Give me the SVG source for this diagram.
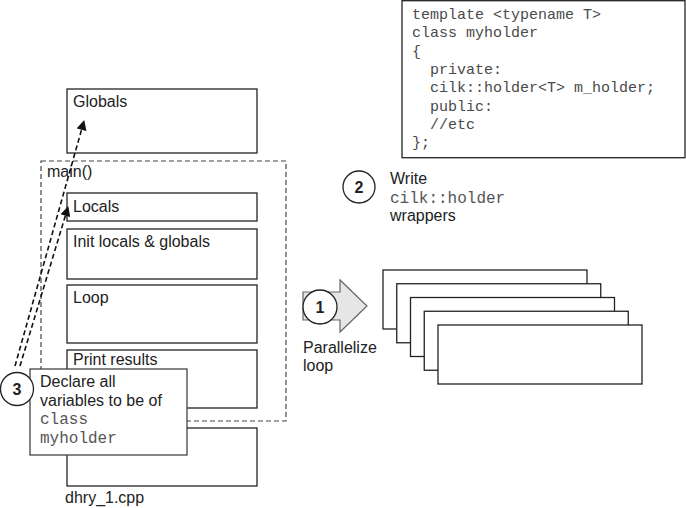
<svg xmlns="http://www.w3.org/2000/svg" width="686" height="508" viewBox="0 0 686 508">
<defs>
<style>
.box{fill:#fff;stroke:#222;stroke-width:1.3}
.sans{font-family:"Liberation Sans",Arial,sans-serif;font-size:16px;fill:#222}
.mono{font-family:"Liberation Mono","Courier New",monospace;font-size:16px;fill:#555}
.code{font-family:"Liberation Mono","Courier New",monospace;font-size:15px;fill:#4a4a4a}
.num{font-family:"Liberation Sans",Arial,sans-serif;font-size:16px;font-weight:bold;fill:#222;text-anchor:middle}
.circ{fill:#fff;stroke:#222;stroke-width:1.3}
.dash{fill:none;stroke:#444;stroke-width:1.2;stroke-dasharray:5 3}
.conn{fill:none;stroke:#111;stroke-width:1.6;stroke-dasharray:5 3}
</style>
<marker id="ah" viewBox="0 0 10 10" refX="9" refY="5" markerWidth="11" markerHeight="10" markerUnits="userSpaceOnUse" orient="auto">
<path d="M0,0 L10,5 L0,10 z" fill="#111"/>
</marker>
</defs>

<g id="code-box">
<rect x="402" y="0.7" width="283" height="157" class="box"/>
<text class="code" xml:space="preserve"><tspan x="412" y="19">template &lt;typename T&gt;</tspan><tspan x="412" y="37.3">class myholder</tspan><tspan x="412" y="55.6">{</tspan><tspan x="412" y="73.9">  private:</tspan><tspan x="412" y="92.2">  cilk::holder&lt;T&gt; m_holder;</tspan><tspan x="412" y="110.5">  public:</tspan><tspan x="412" y="128.8">  //etc</tspan><tspan x="412" y="147.1">};</tspan></text>
</g>

<g id="globals">
<rect x="67" y="89" width="190" height="64" class="box"/>
<text class="sans" x="73" y="107">Globals</text>
</g>

<g id="main">
<rect x="41" y="161" width="245" height="260" class="dash"/>
<text class="sans" x="47" y="177">main()</text>
</g>

<g id="locals">
<rect x="67" y="193" width="190" height="28" class="box"/>
<text class="sans" x="73" y="212">Locals</text>
</g>

<g id="init">
<rect x="67" y="229" width="190" height="50" class="box"/>
<text class="sans" x="73" y="247">Init locals &amp; globals</text>
</g>

<g id="loop">
<rect x="67" y="285" width="190" height="58" class="box"/>
<text class="sans" x="73" y="303">Loop</text>
</g>

<g id="print">
<rect x="67" y="350" width="190" height="58" class="box"/>
<text class="sans" x="73" y="365">Print results</text>
</g>

<g id="bottom-block">
<rect x="67" y="428" width="190" height="58" class="box"/>
</g>

<g id="file-label">
<text class="sans" x="65" y="503">dhry_1.cpp</text>
</g>

<g id="connectors">
<line x1="15" y1="366" x2="84" y2="121" class="conn" marker-end="url(#ah)"/>
<line x1="20" y1="366" x2="68" y2="207" class="conn" marker-end="url(#ah)"/>
</g>

<g id="step3">
<rect x="30" y="369" width="157" height="86" fill="#fff" stroke="#444" stroke-width="1.3"/>
<circle cx="17" cy="389" r="16.5" class="circ"/>
<text class="num" x="17" y="395">3</text>
<text class="sans" x="40" y="387">Declare all</text>
<text class="sans" x="40" y="405.5">variables to be of</text>
<text class="mono" x="40" y="424">class</text>
<text class="mono" x="40" y="442.5">myholder</text>
</g>

<g id="step2">
<circle cx="359" cy="187" r="16" class="circ"/>
<text class="num" x="359" y="193">2</text>
<text class="sans" x="390" y="184">Write</text>
<text class="mono" x="390" y="203">cilk::holder</text>
<text class="sans" x="390" y="221">wrappers</text>
</g>

<g id="step1">
<path d="M303,292 L340,292 L340,280 L367,306 L340,332 L340,320 L303,320 Z" fill="#e6e6e6" stroke="#666" stroke-width="1.2"/>
<circle cx="320" cy="307" r="17" class="circ"/>
<text class="num" x="320" y="313">1</text>
<text class="sans" x="303" y="353">Parallelize</text>
<text class="sans" x="303" y="371">loop</text>
</g>

<g id="parallel-stack">
<rect x="383" y="270" width="204" height="59" class="box"/>
<rect x="396.75" y="283.75" width="204" height="59" class="box"/>
<rect x="410.5" y="297.5" width="204" height="59" class="box"/>
<rect x="424.25" y="311.25" width="204" height="59" class="box"/>
<rect x="438" y="325" width="204" height="59" class="box"/>
</g>
</svg>
